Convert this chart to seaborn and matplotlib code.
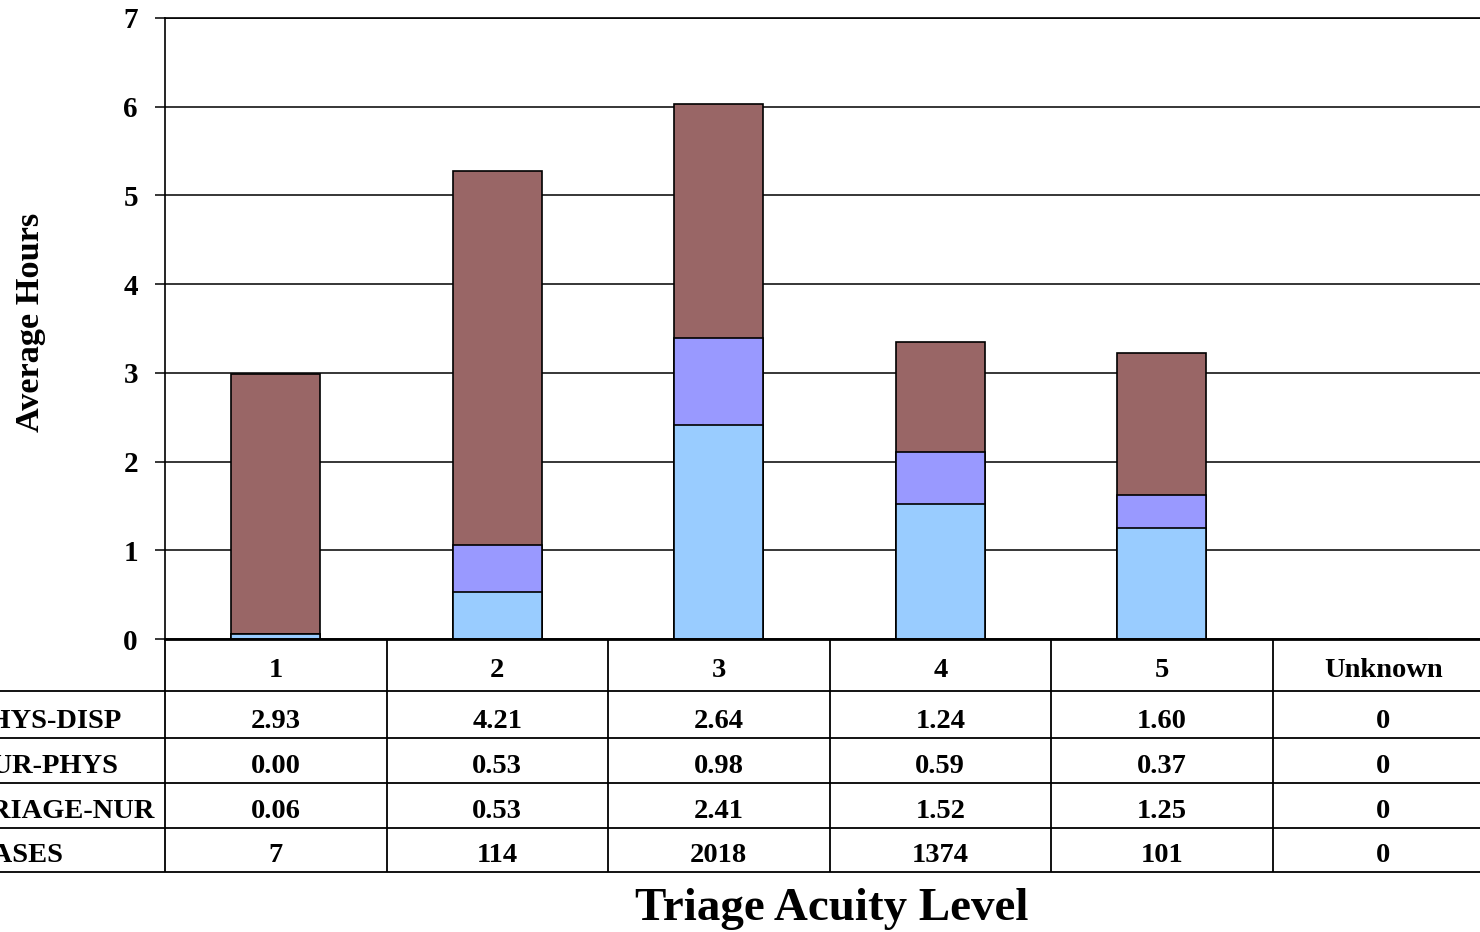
import matplotlib
matplotlib.use("Agg")
import matplotlib.pyplot as plt
import matplotlib.transforms as mtransforms
import numpy as np
import pandas as pd
import seaborn as sns

# Average hours per segment of the ED visit, by triage acuity level
levels = ["1", "2", "3", "4", "5", "Unknown"]
phys_disp = [2.93, 4.21, 2.64, 1.24, 1.60, 0]
nur_phys = [0.00, 0.53, 0.98, 0.59, 0.37, 0]
triage_nur = [0.06, 0.53, 2.41, 1.52, 1.25, 0]
cases = [7, 114, 2018, 1374, 101, 0]
row_names = ["PHYS-DISP", "NUR-PHYS", "TRIAGE-NUR", "CASES"]

C_PHYS = "#996666"
C_NUR = "#9999FF"
C_TRI = "#99CCFF"

sns.set_theme(style="white")
plt.rcParams["font.family"] = ["Liberation Serif", "DejaVu Serif"]
plt.rcParams["font.weight"] = "bold"

W, H = 1480, 932
fig = plt.figure(figsize=(W / 100, H / 100), dpi=100)


def px_box(x0, y0, x1, y1):
    """Pixel box (top-left origin) -> figure fraction rect."""
    return [x0 / W, 1 - y1 / H, (x1 - x0) / W, (y1 - y0) / H]


ax = fig.add_axes(px_box(165, 18, 1494, 639))

df = pd.DataFrame({
    "level": levels,
    "TRIAGE-NUR": triage_nur,
    "NUR-PHYS": nur_phys,
    "PHYS-DISP": phys_disp,
})
df["to_tri"] = df["TRIAGE-NUR"]
df["to_nur"] = df["to_tri"] + df["NUR-PHYS"]
df["to_phys"] = df["to_nur"] + df["PHYS-DISP"]

# stacked bars: draw cumulative totals from the top segment downwards
for col, color in [("to_phys", C_PHYS), ("to_nur", C_NUR), ("to_tri", C_TRI)]:
    sns.barplot(data=df, x="level", y=col, color=color, saturation=1,
                width=0.4, edgecolor="black", linewidth=1.2, ax=ax)

ax.set_xlim(-0.5, len(levels) - 0.5)
ax.set_ylim(0, 7)
ax.set_yticks(range(0, 8))
ax.set_xlabel("")
ax.set_ylabel("")
ax.tick_params(axis="x", bottom=False, labelbottom=False)
ax.tick_params(axis="y", left=True, length=7.5, width=1.1, color="black",
               direction="out", pad=12, labelsize=21, labelcolor="black")
for lab in ax.get_yticklabels():
    lab.set_fontweight("bold")
ax.yaxis.grid(True, color="black", linewidth=1.1)
ax.set_axisbelow(True)
for side in ["left", "top"]:
    ax.spines[side].set_color("black")
    ax.spines[side].set_linewidth(1.2)
ax.spines["bottom"].set_color("black")
ax.spines["bottom"].set_linewidth(2.0)
ax.spines["right"].set_visible(False)

# data table under the plot, sharing the category axis
tax = fig.add_axes(px_box(165, 639, 1494, 872))
tax.set_xlim(-0.5, len(levels) - 0.5)
tax.set_ylim(872, 639)
tax.axis("off")

row_lines = [691, 738, 783, 828, 872]
for y in row_lines:
    tax.plot([-1.4, len(levels) - 0.5], [y, y], color="black", lw=1.3,
             clip_on=False, solid_capstyle="butt")
for x in np.arange(-0.5, len(levels), 1.0):
    tax.plot([x, x], [639, 872], color="black", lw=1.3, clip_on=False,
             solid_capstyle="butt")

txt_kw = dict(ha="center", va="baseline", fontsize=20.5, fontweight="bold",
              color="black", clip_on=False)
for i, lv in enumerate(levels):
    tax.text(i, 677, lv, **txt_kw)


def fmt(v):
    return f"{v:.2f}" if isinstance(v, float) else str(v)


rows = [phys_disp, nur_phys, triage_nur, cases]
baselines = [728, 773, 818, 862]
label_tr = mtransforms.blended_transform_factory(fig.transFigure, tax.transData)
for name, vals, yb in zip(row_names, rows, baselines):
    tax.text(-28 / W, yb, name, transform=label_tr, ha="left", va="baseline",
             fontsize=20.5, fontweight="bold", color="black")
    for i, v in enumerate(vals):
        tax.text(i, yb, fmt(v), **txt_kw)

fig.text(31 / W, 1 - 322 / H, "Average Hours", rotation=90, ha="center",
         va="center", fontsize=24.7, fontweight="bold", color="black")
fig.text(832 / W, 1 - 920 / H, "Triage Acuity Level", ha="center",
         va="baseline", fontsize=33.8, fontweight="bold", color="black")

fig.savefig("out.png", dpi=100)
